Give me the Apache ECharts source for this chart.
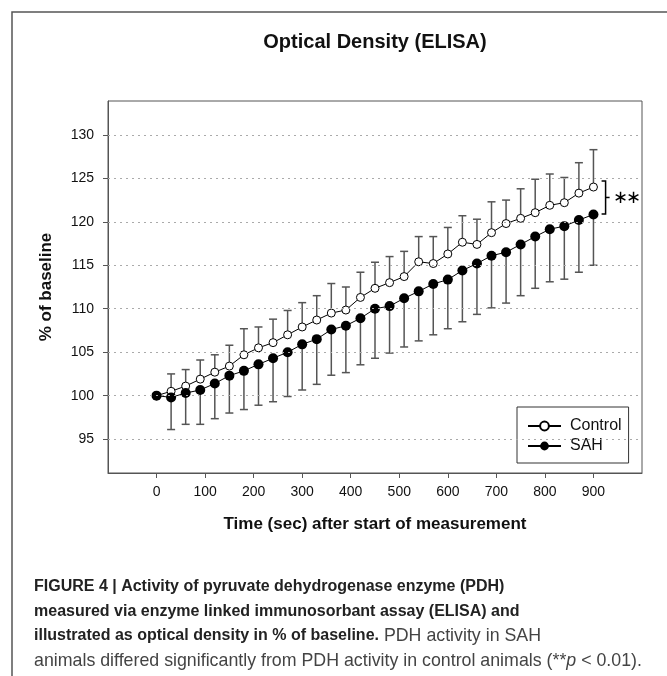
<!DOCTYPE html>
<html>
<head>
<meta charset="utf-8">
<title>Optical Density (ELISA)</title>
<script src="https://cdn.jsdelivr.net/npm/echarts@6/dist/echarts.min.js"></script>
<style>
    html, body { margin: 0; padding: 0; background: #fff; }
    #chart { width: 667px; height: 676px; }
</style>
</head>
<body>
<div id="chart"></div>
<script>
// time points (sec)
var times = [0, 30, 60, 90, 120, 150, 180, 210, 240, 270, 300, 330, 360, 390, 420, 450,
    480, 510, 540, 570, 600, 630, 660, 690, 720, 750, 780, 810, 840, 870, 900]
// % of baseline, mean
var control = [100, 100.5, 101.1, 101.9, 102.7, 103.4, 104.7, 105.5, 106.1, 107.0, 107.9, 108.7,
    109.5, 109.85, 111.3, 112.35, 113.0, 113.7, 115.4, 115.2, 116.3, 117.65, 117.4, 118.75,
    119.8, 120.4, 121.05, 121.9, 122.2, 123.3, 124.0]
var sah = [100, 99.8, 100.3, 100.65, 101.4, 102.3, 102.85, 103.6, 104.3, 105.0, 105.9, 106.5,
    107.6, 108.05, 108.9, 110.0, 110.3, 111.2, 112.0, 112.85, 113.35, 114.4, 115.2, 116.1,
    116.5, 117.4, 118.3, 119.15, 119.5, 120.2, 120.85]
// error bar ends (control goes up, SAH goes down)
var controlUpper = [100, 102.5, 103.0, 104.1, 104.7, 105.8, 107.7, 107.9, 108.8, 109.8, 110.7, 111.5,
    112.9, 112.5, 114.2, 115.35, 116.0, 116.6, 118.3, 118.3, 119.35, 120.7, 120.3, 122.3,
    122.5, 123.8, 124.9, 125.5, 125.1, 126.8, 128.3]
var sahLower = [100, 96.1, 96.7, 96.7, 97.35, 98.0, 98.4, 98.9, 99.3, 99.9, 100.65, 101.3,
    102.35, 102.65, 103.55, 104.3, 104.9, 105.6, 106.3, 107.0, 107.7, 108.5, 109.35, 110.1,
    110.65, 111.5, 112.35, 113.1, 113.4, 114.2, 115.0]
var xTicks = [0, 100, 200, 300, 400, 500, 600, 700, 800, 900]
var yTicks = [95, 100, 105, 110, 115, 120, 125, 130]
// significance bracket: at x, from top to bottom
var sigBracket = [[925, 124.7, 120.9]]

var font = 'Liberation Sans, Arial, Helvetica, sans-serif'
var axisColor = '#555'

function errorBar(params, api) {
    var x = api.value(0)
    var mean = api.value(1)
    var end = api.value(2)
    if (mean === end) return
    var p1 = api.coord([x, mean])
    var p2 = api.coord([x, end])
    var cap = 4
    return {
        type: 'group',
        children: [
            { type: 'line', shape: { x1: p1[0], y1: p1[1], x2: p2[0], y2: p2[1] },
              style: { stroke: '#555', lineWidth: 1.5 } },
            { type: 'line', shape: { x1: p2[0] - cap, y1: p2[1], x2: p2[0] + cap, y2: p2[1] },
              style: { stroke: '#555', lineWidth: 1.5 } }
        ]
    }
}

function bracket(params, api) {
    var top = api.coord([api.value(0), api.value(1)])
    var bot = api.coord([api.value(0), api.value(2)])
    var x = top[0]
    var mid = (top[1] + bot[1]) / 2
    var star = { font: '18px DejaVu Sans', fill: '#000', align: 'center', verticalAlign: 'middle' }
    return {
        type: 'group',
        children: [
            { type: 'polyline',
              shape: { points: [[x - 4, top[1]], [x, top[1]], [x, bot[1]], [x - 4, bot[1]]] },
              style: { stroke: '#000', lineWidth: 1.5, fill: null } },
            { type: 'line', shape: { x1: x, y1: mid, x2: x + 4, y2: mid },
              style: { stroke: '#000', lineWidth: 1.5 } },
            { type: 'text', x: x + 15, y: mid + 1, style: Object.assign({ text: '\u2217' }, star) },
            { type: 'text', x: x + 28, y: mid + 1, style: Object.assign({ text: '\u2217' }, star) }
        ]
    }
}

var chart = echarts.init(document.getElementById('chart'), null, { renderer: 'canvas' })

var option = {
    animation: false,
    backgroundColor: '#fff',
    textStyle: { fontFamily: font },
    grid: {
        left: 108, right: 25, top: 101, bottom: 203,
        show: true, borderColor: axisColor, borderWidth: 1
    },
    xAxis: {
        type: 'value',
        min: -100, max: 1000, interval: 100,
        name: 'Time (sec) after start of measurement',
        nameLocation: 'middle', nameGap: 43,
        nameTextStyle: { fontSize: 17, fontWeight: 'bold', color: '#111', fontFamily: font },
        axisLine: { show: true, onZero: false, lineStyle: { color: axisColor, width: 1 } },
        axisTick: { show: true, customValues: xTicks, length: 5, lineStyle: { color: axisColor } },
        axisLabel: { customValues: xTicks, fontSize: 14, color: '#111', margin: 12, fontFamily: font },
        splitLine: { show: false }
    },
    yAxis: {
        type: 'value',
        min: 91.1, max: 133.9,
        name: '% of baseline',
        nameLocation: 'middle', nameGap: 53, nameRotate: 90,
        nameTextStyle: { fontSize: 17, fontWeight: 'bold', color: '#111', fontFamily: font },
        axisLine: { show: true, onZero: false, lineStyle: { color: axisColor, width: 1 } },
        axisTick: { show: true, customValues: yTicks, length: 5, lineStyle: { color: axisColor } },
        axisLabel: { customValues: yTicks, fontSize: 14, color: '#111', margin: 14, fontFamily: font },
        splitLine: { show: false }
    },
    legend: {
        data: ['Control', 'SAH'],
        orient: 'vertical',
        left: 517, top: 407,
        padding: [11, 7, 9, 10],
        itemWidth: 33, itemHeight: 11, itemGap: 4,
        borderColor: '#333', borderWidth: 1,
        textStyle: { fontSize: 16, color: '#111', fontFamily: font, padding: [0, 0, 0, 4] }
    },
    graphic: [
        { type: 'polyline', shape: { points: [[12, 676], [12, 12], [667, 12]] },
          style: { stroke: '#555', lineWidth: 1.5, fill: null } },
        { type: 'text', x: 375, y: 42,
          style: { text: 'Optical Density (ELISA)', font: 'bold 20px ' + font, fill: '#111',
                   align: 'center', verticalAlign: 'middle' } },
        { type: 'text', x: 34, y: 587,
          style: { text: 'FIGURE 4 | Activity of pyruvate dehydrogenase enzyme (PDH)',
                   font: 'bold 16px ' + font, fill: '#222', verticalAlign: 'middle' } },
        { type: 'text', x: 34, y: 612,
          style: { text: 'measured via enzyme linked immunosorbant assay (ELISA) and',
                   font: 'bold 16px ' + font, fill: '#222', verticalAlign: 'middle' } },
        { type: 'text', x: 34, y: 636,
          style: {
              text: '{b|illustrated as optical density in % of baseline.}{r| PDH activity in SAH}',
              verticalAlign: 'middle',
              rich: {
                  b: { font: 'bold 16px ' + font, fill: '#222' },
                  r: { font: '17.8px ' + font, fill: '#444' }
              }
          } },
        { type: 'text', x: 34, y: 661,
          style: {
              text: '{r|animals differed significantly from PDH activity in control animals (**}{i|p}{r| < 0.01).}',
              verticalAlign: 'middle',
              rich: {
                  r: { font: '17.8px ' + font, fill: '#444' },
                  i: { font: 'italic 17.8px ' + font, fill: '#444' }
              }
          } }
    ],
    series: [
        {
            // dotted reference lines at the y ticks
            type: 'line', name: 'gridlines', data: [], z: 0,
            markLine: {
                silent: true, symbol: 'none', label: { show: false },
                lineStyle: { type: [2, 4], color: '#aaa', width: 1 },
                data: yTicks.map(function (v) { return { yAxis: v } })
            }
        },
        {
            type: 'custom', name: 'Control error', z: 1,
            renderItem: errorBar,
            data: times.map(function (t, i) { return [t, control[i], controlUpper[i]] })
        },
        {
            type: 'custom', name: 'SAH error', z: 1,
            renderItem: errorBar,
            data: times.map(function (t, i) { return [t, sah[i], sahLower[i]] })
        },
        {
            type: 'line', name: 'Control', z: 3,
            data: times.map(function (t, i) { return [t, control[i]] }),
            symbol: 'circle', symbolSize: 8,
            itemStyle: { color: '#fff', borderColor: '#000', borderWidth: 1 },
            lineStyle: { color: '#000', width: 1 }
        },
        {
            type: 'line', name: 'SAH', z: 4,
            data: times.map(function (t, i) { return [t, sah[i]] }),
            symbol: 'circle', symbolSize: 10,
            itemStyle: { color: '#000' },
            lineStyle: { color: '#000', width: 1 }
        },
        {
            type: 'custom', name: 'significance', z: 5,
            renderItem: bracket,
            data: sigBracket
        }
    ]
}

chart.setOption(option)
</script>
</body>
</html>
